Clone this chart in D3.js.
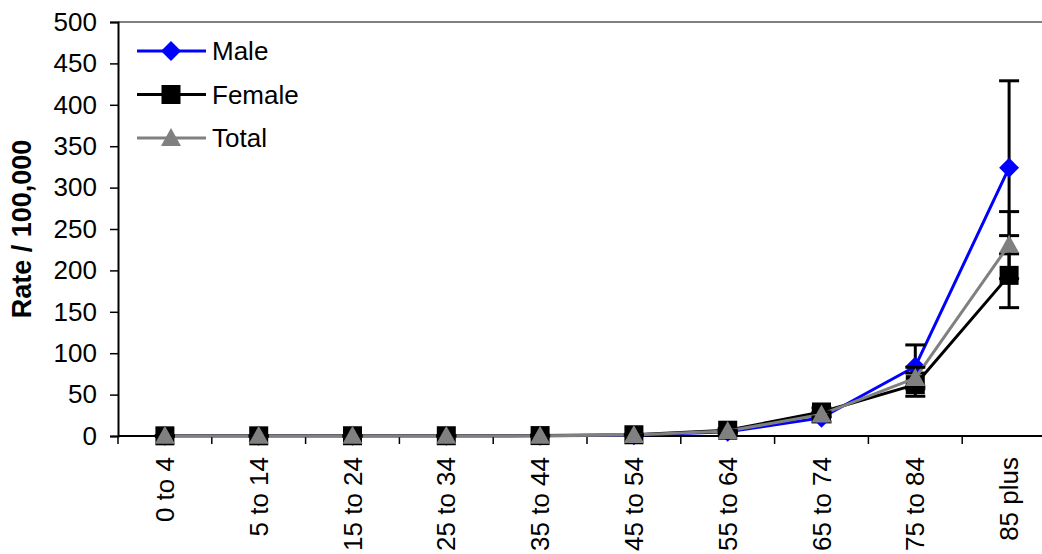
<!DOCTYPE html>
<html>
<head>
<meta charset="utf-8">
<script src="https://cdn.jsdelivr.net/npm/d3@7/dist/d3.min.js"></script>
<style>
  html, body { margin: 0; padding: 0; background: #fff; }
  svg { display: block; font-family: Arial, "Liberation Sans", sans-serif; }
</style>
</head>
<body>
<svg id="chart" width="1042" height="554"></svg>
<script>
// Age groups along the x axis
const ageGroups = ["0 to 4", "5 to 14", "15 to 24", "25 to 34", "35 to 44",
                   "45 to 54", "55 to 64", "65 to 74", "75 to 84", "85 plus"];

// Rates per 100,000
const maleRate   = [0.2, 0.2, 0.2, 0.3, 0.4, 1.0, 5, 22, 84, 324];
const femaleRate = [0.2, 0.2, 0.3, 0.3, 0.5, 1.5, 7, 29, 62, 194];
const totalRate  = [0.2, 0.2, 0.2, 0.3, 0.4, 1.2, 6, 26, 70, 231];

// Confidence interval bounds
const maleLow    = [0, 0, 0, 0, 0, 0.5, 3, 17, 60, 220];
const maleHigh   = [0.5, 0.5, 0.5, 0.6, 0.8, 1.6, 7, 27, 110, 429];
const femaleLow  = [0, 0, 0, 0, 0.1, 0.9, 5, 24, 48, 155];
const femaleHigh = [0.5, 0.5, 0.6, 0.6, 0.9, 2.1, 9, 34, 76, 242];
const totalLow   = [0, 0, 0, 0, 0.2, 0.9, 5, 23, 57, 190];
const totalHigh  = [0.4, 0.4, 0.4, 0.5, 0.6, 1.5, 7, 29, 83, 271];

const yTicks = [0, 50, 100, 150, 200, 250, 300, 350, 400, 450, 500];

const series = [
  { name: "Male",   values: maleRate,   low: maleLow,   high: maleHigh,   color: "#0000ff", marker: "diamond" },
  { name: "Female", values: femaleRate, low: femaleLow, high: femaleHigh, color: "#000000", marker: "square" },
  { name: "Total",  values: totalRate,  low: totalLow,  high: totalHigh,  color: "#808080", marker: "triangle" }
];

const FONT = 26;
const svg = d3.select("#chart");
const plotLeft = 118, plotRight = 1056, plotTop = 22, plotBottom = 436;

const x = d3.scaleBand().domain(ageGroups).range([plotLeft, plotRight]);
const y = d3.scaleLinear().domain([0, 500]).range([plotBottom, plotTop]);
const cx = d => x(d) + x.bandwidth() / 2;

// Plot frame (top and right edges)
svg.append("path")
  .attr("d", `M${plotLeft},${plotTop}H${plotRight}V${plotBottom}`)
  .attr("fill", "none").attr("stroke", "#808080").attr("stroke-width", 2);

// Y axis
const yAxis = svg.append("g").attr("transform", `translate(${plotLeft},0)`)
  .call(d3.axisLeft(y).tickValues(yTicks).tickSize(8).tickPadding(13).tickFormat(d3.format("d")));
yAxis.select(".domain").attr("stroke", "#000").attr("stroke-width", 2);
yAxis.selectAll(".tick line").attr("stroke", "#000").attr("stroke-width", 1.5);
yAxis.selectAll("text").attr("font-size", FONT).attr("fill", "#000")
  .attr("font-family", "Arial, 'Liberation Sans', sans-serif");

// X axis with ticks between categories
const xAxis = svg.append("g").attr("transform", `translate(0,${plotBottom})`);
xAxis.append("line").attr("x1", plotLeft).attr("x2", plotRight)
  .attr("stroke", "#000").attr("stroke-width", 2);
xAxis.selectAll("line.tk").data(ageGroups).enter().append("line")
  .attr("class", "tk")
  .attr("x1", d => x(d)).attr("x2", d => x(d))
  .attr("y1", 0).attr("y2", 8)
  .attr("stroke", "#000").attr("stroke-width", 1.5);
xAxis.selectAll("text").data(ageGroups).enter().append("text")
  .attr("transform", d => `translate(${cx(d)},21) rotate(-90)`)
  .attr("text-anchor", "end").attr("dy", "0.35em")
  .attr("font-size", FONT).text(d => d);

// Axis title
svg.append("text")
  .attr("transform", `translate(22,${(plotTop + plotBottom) / 2}) rotate(-90)`)
  .attr("text-anchor", "middle").attr("dy", "0.35em")
  .attr("font-size", 27).attr("font-weight", "bold").text("Rate / 100,000");

// Marker shapes: diamond, square, triangle
function drawMarker(g, s, px, py) {
  if (s.marker === "diamond") {
    g.append("path").attr("d", d3.symbol().type(d3.symbolSquare).size(200)())
      .attr("transform", `translate(${px},${py}) rotate(45)`).attr("fill", s.color);
  } else if (s.marker === "square") {
    g.append("rect").attr("x", px - 9.5).attr("y", py - 9.5).attr("width", 19).attr("height", 19)
      .attr("fill", s.color);
  } else {
    g.append("path").attr("d", `M${px},${py - 10}L${px + 10},${py + 8}L${px - 10},${py + 8}Z`)
      .attr("fill", s.color);
  }
}

const line = d3.line().x((d, i) => cx(ageGroups[i])).y(d => y(d));
const plot = svg.append("g");

series.forEach(s => {
  const g = plot.append("g");
  g.append("path").datum(s.values).attr("d", line)
    .attr("fill", "none").attr("stroke", s.color).attr("stroke-width", 3)
    .attr("stroke-linejoin", "round");
  // Error bars
  ageGroups.forEach((a, i) => {
    const px = cx(a);
    g.append("line").attr("x1", px).attr("x2", px)
      .attr("y1", y(s.low[i])).attr("y2", y(s.high[i]))
      .attr("stroke", "#000").attr("stroke-width", 3);
    [s.low[i], s.high[i]].forEach(v => {
      g.append("line").attr("x1", px - 10).attr("x2", px + 10)
        .attr("y1", y(v)).attr("y2", y(v))
        .attr("stroke", "#000").attr("stroke-width", 3);
    });
  });
  ageGroups.forEach((a, i) => drawMarker(g, s, cx(a), y(s.values[i])));
});

// Legend
const legend = svg.append("g");
series.forEach((s, i) => {
  const ly = 51 + i * 43.5;
  legend.append("line").attr("x1", 137).attr("x2", 206).attr("y1", ly).attr("y2", ly)
    .attr("stroke", s.color).attr("stroke-width", 3);
  drawMarker(legend, s, 171, ly);
  legend.append("text").attr("x", 212).attr("y", ly).attr("dy", "0.35em")
    .attr("font-size", FONT).text(s.name);
});
</script>
</body>
</html>
